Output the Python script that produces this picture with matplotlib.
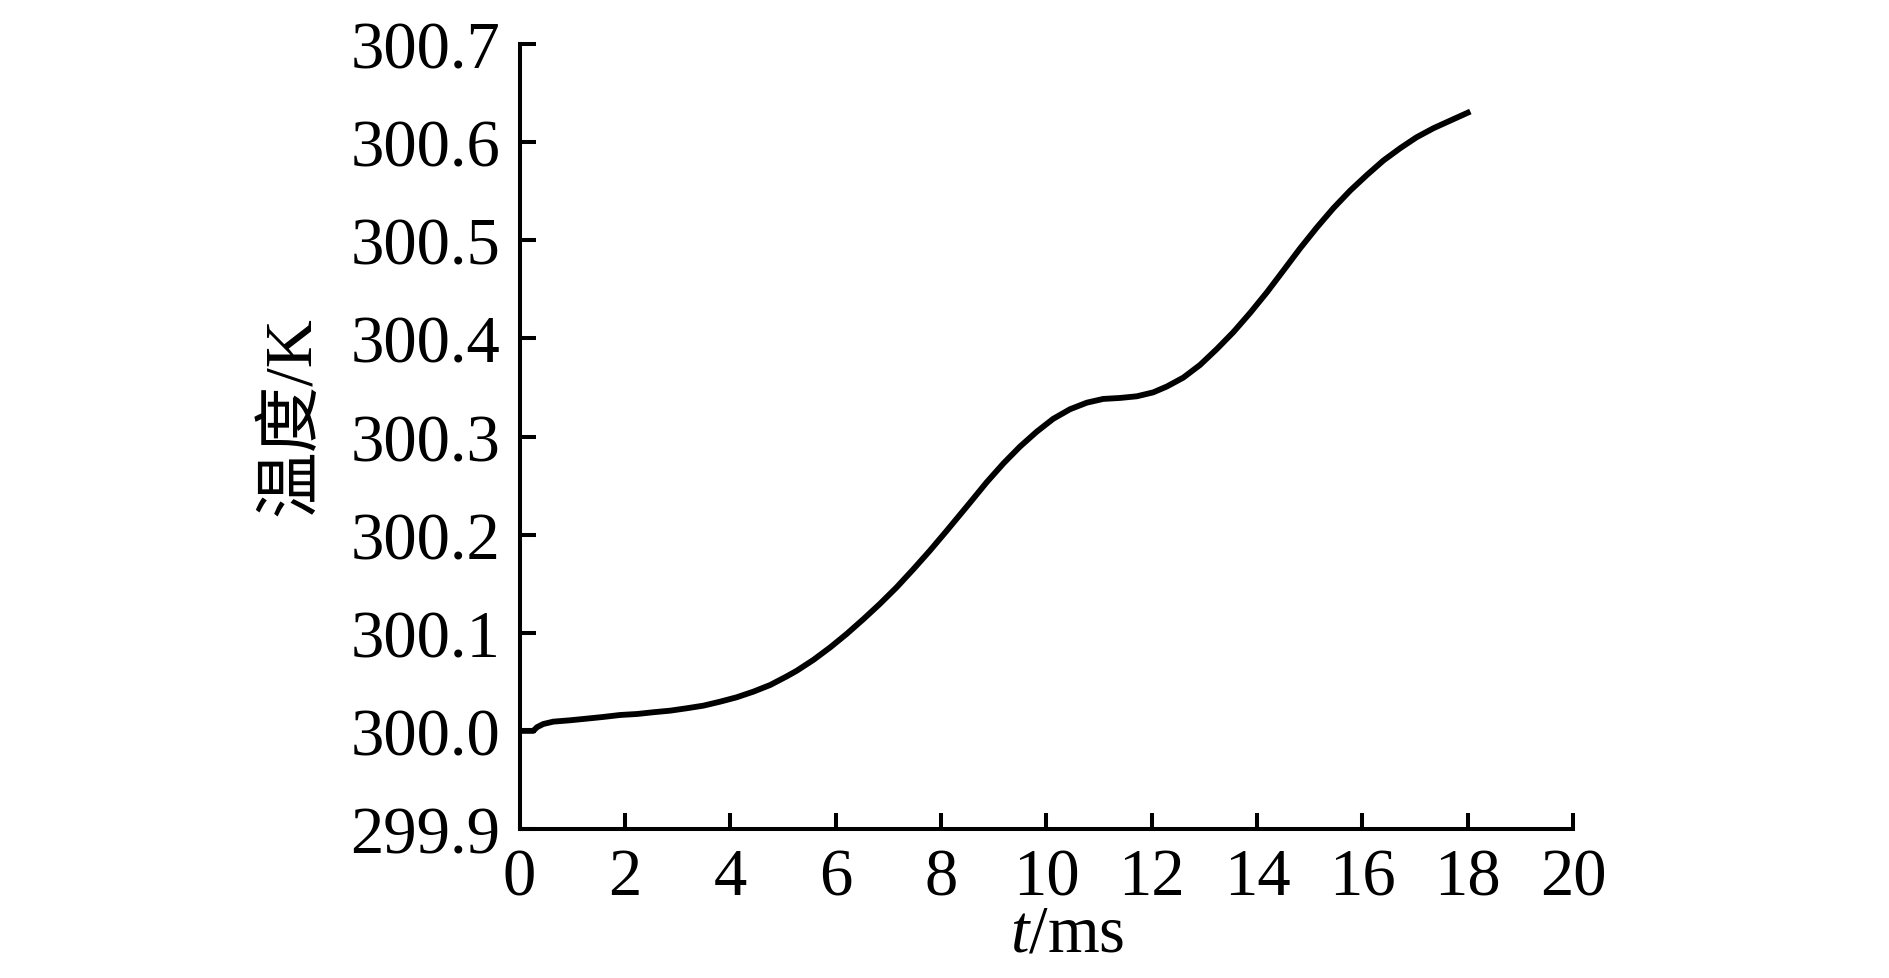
import matplotlib
matplotlib.use("Agg")
import matplotlib.pyplot as plt
from matplotlib.ticker import FormatStrFormatter

plt.rcParams['font.family'] = ['Liberation Serif', 'Noto Sans CJK SC']
plt.rcParams['mathtext.fontset'] = 'custom'
plt.rcParams['mathtext.rm'] = 'Liberation Serif'
plt.rcParams['mathtext.it'] = 'Liberation Serif:italic'

# data
time_ms = [0.0, 0.26, 0.33, 0.45, 0.64, 0.96, 1.28, 1.59, 1.91, 2.23, 2.54,
           2.86, 3.17, 3.49, 3.81, 4.12, 4.44, 4.76, 5.07, 5.26, 5.58, 5.90,
           6.21, 6.53, 6.84, 7.16, 7.48, 7.79, 8.11, 8.55, 8.87, 9.19,
           9.50, 9.82, 10.13, 10.45, 10.77, 11.08, 11.40, 11.72, 12.03,
           12.29, 12.60, 12.92, 13.24, 13.55, 13.87, 14.19, 14.50, 14.82,
           15.14, 15.45, 15.77, 16.09, 16.40, 16.72, 17.03, 17.35, 17.67,
           18.05]
temp_K = [300.0, 300.0, 300.0037, 300.007, 300.0094, 300.0108, 300.0125,
          300.0142, 300.0162, 300.0172, 300.019, 300.0206, 300.023, 300.0257,
          300.0298, 300.0342, 300.040, 300.0468, 300.0555, 300.0612,
          300.0724, 300.0852, 300.0988, 300.114, 300.1294, 300.1464, 300.165,
          300.1837, 300.204, 300.2325, 300.2535, 300.2728, 300.2897,
          300.305, 300.318, 300.3278, 300.3345, 300.3383, 300.3393, 300.341,
          300.345, 300.351, 300.360, 300.373, 300.3893, 300.4063, 300.426,
          300.4471, 300.4691, 300.4919, 300.5133, 300.5327, 300.5507,
          300.5667, 300.5813, 300.5939, 300.605, 300.6142, 300.622, 300.6312]
x_ticks = [0, 2, 4, 6, 8, 10, 12, 14, 16, 18, 20]
y_ticks = [299.9, 300.0, 300.1, 300.2, 300.3, 300.4, 300.5, 300.6, 300.7]

fig = plt.figure(figsize=(18.9, 9.79), dpi=100)
ax = fig.add_axes([0.2749, 0.1522, 0.8323 - 0.2749, 0.954 - 0.1522])

ax.plot(time_ms, temp_K, color='black', lw=4.2, solid_capstyle='butt',
        solid_joinstyle='round')

ax.set_xlim(0, 20)
ax.set_ylim(299.9, 300.7)
ax.set_xticks(x_ticks)
ax.set_yticks(y_ticks)
ax.yaxis.set_major_formatter(FormatStrFormatter('%.1f'))

for s in ['top', 'right']:
    ax.spines[s].set_visible(False)
for s in ['left', 'bottom']:
    ax.spines[s].set_linewidth(2.9)

ax.tick_params(axis='both', direction='in', length=11.5, width=2.9,
               labelsize=48)
ax.tick_params(axis='y', pad=14)
ax.tick_params(axis='x', pad=13)

ax.set_ylabel('温度/K', fontsize=48)
ax.yaxis.set_label_coords(-0.1865, 0.527)
ax.set_xlabel(r'$t$/ms', fontsize=48)
ax.xaxis.set_label_coords(0.52, -0.095)

fig.savefig('out.png', dpi=100)
